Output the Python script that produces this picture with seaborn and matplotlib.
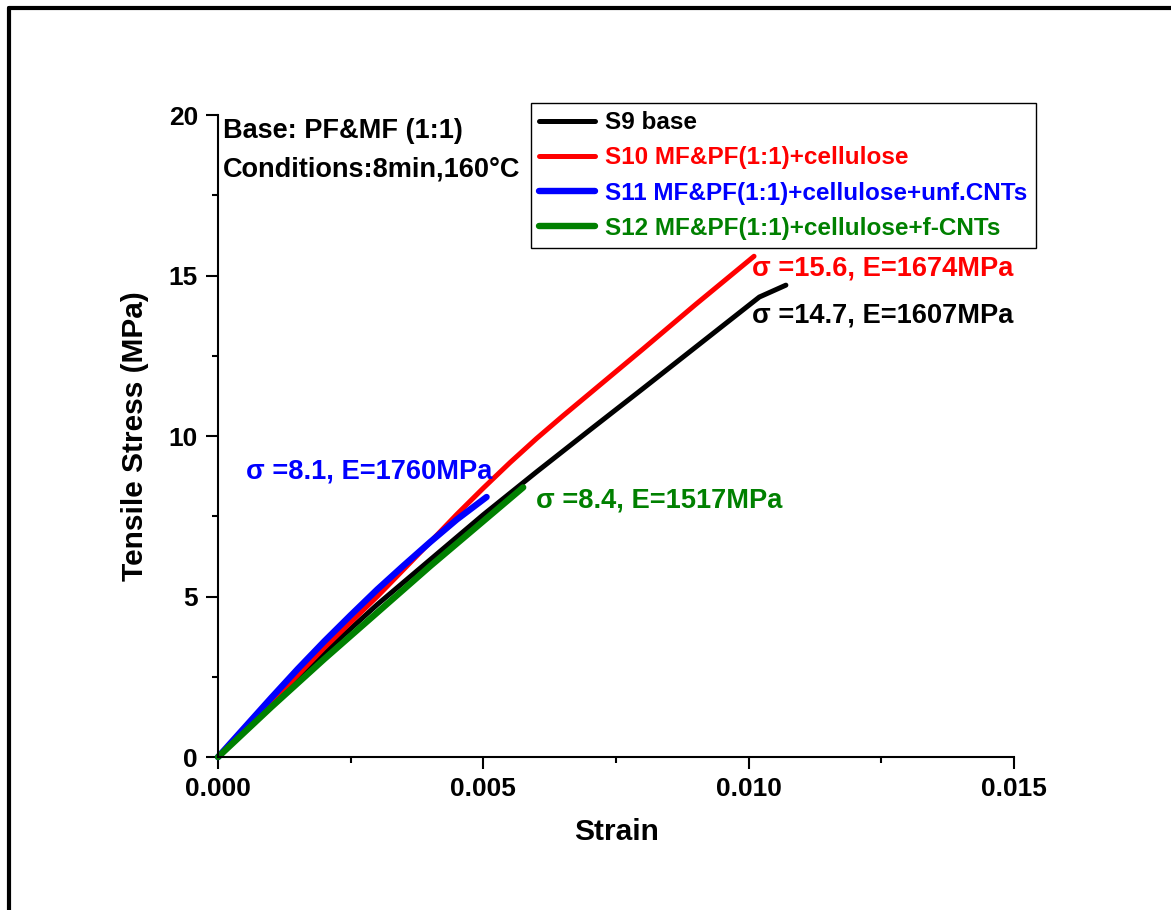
import matplotlib
matplotlib.use("Agg")
import matplotlib.pyplot as plt
import pandas as pd
import seaborn as sns
from matplotlib.lines import Line2D
from matplotlib.ticker import AutoMinorLocator, FormatStrFormatter

# Tensile stress-strain curves (strain in mm/mm, stress in MPa)
strain_s9 = [0.0, 0.001, 0.002, 0.003, 0.004, 0.005, 0.006, 0.007, 0.008, 0.009, 0.0102, 0.0107]
stress_s9 = [0.0, 1.65, 3.25, 4.75, 6.15, 7.55, 8.88, 10.18, 11.47, 12.77, 14.33, 14.7]

strain_s10 = [0.0, 0.0005, 0.001, 0.0015, 0.002, 0.0025, 0.003, 0.0035, 0.004, 0.0045,
              0.005, 0.0055, 0.006, 0.0065, 0.007, 0.008, 0.009, 0.0101]
stress_s10 = [0.0, 0.85, 1.7, 2.55, 3.4, 4.2, 5.0, 5.85, 6.7, 7.56,
              8.38, 9.17, 9.92, 10.63, 11.32, 12.7, 14.1, 15.6]

strain_s11 = [0.0, 0.0005, 0.001, 0.0015, 0.002, 0.0025, 0.003, 0.0035, 0.004, 0.0045, 0.00506]
stress_s11 = [0.0, 0.92, 1.84, 2.74, 3.6, 4.42, 5.22, 5.97, 6.7, 7.4, 8.1]

strain_s12 = [0.0, 0.001, 0.002, 0.003, 0.004, 0.005, 0.00575]
stress_s12 = [0.0, 1.55, 3.05, 4.5, 5.95, 7.35, 8.4]

sample_labels = [
    "S9 base",
    "S10 MF&PF(1:1)+cellulose",
    "S11 MF&PF(1:1)+cellulose+unf.CNTs",
    "S12 MF&PF(1:1)+cellulose+f-CNTs",
]
sample_colors = ["#000000", "#FF0000", "#0000FF", "#008000"]

# Peak stress and modulus for each sample
peak_stress = [14.7, 15.6, 8.1, 8.4]
modulus = [1607, 1674, 1760, 1517]

x_ticks = [0.000, 0.005, 0.010, 0.015]
y_ticks = [0, 5, 10, 15, 20]

sns.set_theme(style="ticks")
plt.rcParams["font.family"] = ["Liberation Sans", "DejaVu Sans"]
plt.rcParams["font.weight"] = "bold"
plt.rcParams["axes.labelweight"] = "bold"

fig = plt.figure(figsize=(11.71, 9.10), dpi=100)
ax = fig.add_axes([0.1862, 0.1681, 0.6798, 0.7055])

curves = [
    (strain_s9, stress_s9, 3.6),
    (strain_s10, stress_s10, 3.6),
    (strain_s11, stress_s11, 4.6),
    (strain_s12, stress_s12, 4.6),
]
for (xs, ys, lw), lab, col in zip(curves, sample_labels, sample_colors):
    df = pd.DataFrame({"Strain": xs, "Stress": ys})
    sns.lineplot(data=df, x="Strain", y="Stress", ax=ax, color=col, lw=lw,
                 label=lab, sort=False, estimator=None, clip_on=False)

ax.set_xlim(x_ticks[0], x_ticks[-1])
ax.set_ylim(y_ticks[0], y_ticks[-1])
ax.set_xticks(x_ticks)
ax.set_yticks(y_ticks)
ax.xaxis.set_major_formatter(FormatStrFormatter("%.3f"))
ax.xaxis.set_minor_locator(AutoMinorLocator(2))
ax.yaxis.set_minor_locator(AutoMinorLocator(2))

for side in ["top", "right"]:
    ax.spines[side].set_visible(False)
for side in ["left", "bottom"]:
    ax.spines[side].set_linewidth(1.5)
    ax.spines[side].set_color("black")

ax.tick_params(which="major", direction="out", length=8.5, width=1.5,
               labelsize=19, pad=6, colors="black", labelcolor="black")
ax.tick_params(which="minor", direction="out", length=4.5, width=1.5, colors="black")
for lbl in ax.get_xticklabels() + ax.get_yticklabels():
    lbl.set_fontweight("bold")

ax.set_xlabel("Strain", fontsize=21.5, fontweight="bold", labelpad=12, color="black")
ax.set_ylabel("Tensile Stress (MPa)", fontsize=21.5, fontweight="bold", labelpad=14,
              color="black")

leg = ax.legend(loc="upper left", bbox_to_anchor=(0.393, 1.019), frameon=True,
                fancybox=False, edgecolor="black", framealpha=1, fontsize=17.5,
                handlelength=2.3, labelcolor="linecolor", borderpad=0.35,
                labelspacing=0.5, handletextpad=0.4, borderaxespad=0)
leg.get_frame().set_linewidth(1.0)
for t in leg.get_texts():
    t.set_fontweight("bold")

# Sample description in the upper-left corner
ax.text(0.0001, 19.5, "Base: PF&MF (1:1)", fontsize=19.5, fontweight="bold",
        color="black", va="center", ha="left")
ax.text(0.0001, 18.3, "Conditions:8min,160\u00b0C", fontsize=19.5, fontweight="bold",
        color="black", va="center", ha="left")

# Peak stress / modulus annotations next to each curve
note_pos = [(0.01006, 13.74), (0.01006, 15.23), (0.00053, 8.88), (0.0060, 8.0)]
for (nx, ny), s, e, col in zip(note_pos, peak_stress, modulus, sample_colors):
    ax.text(nx, ny, f"\u03c3 ={s}, E={e}MPa", fontsize=19.6, fontweight="bold",
            color=col, va="center", ha="left")

# Outer frame lines
fig.add_artist(Line2D([0.0077, 0.0077], [0.0, 0.9907], transform=fig.transFigure,
                      color="black", lw=3))
fig.add_artist(Line2D([0.0077, 1.0], [0.9907, 0.9907], transform=fig.transFigure,
                      color="black", lw=3))

fig.savefig("out.png", dpi=100)
